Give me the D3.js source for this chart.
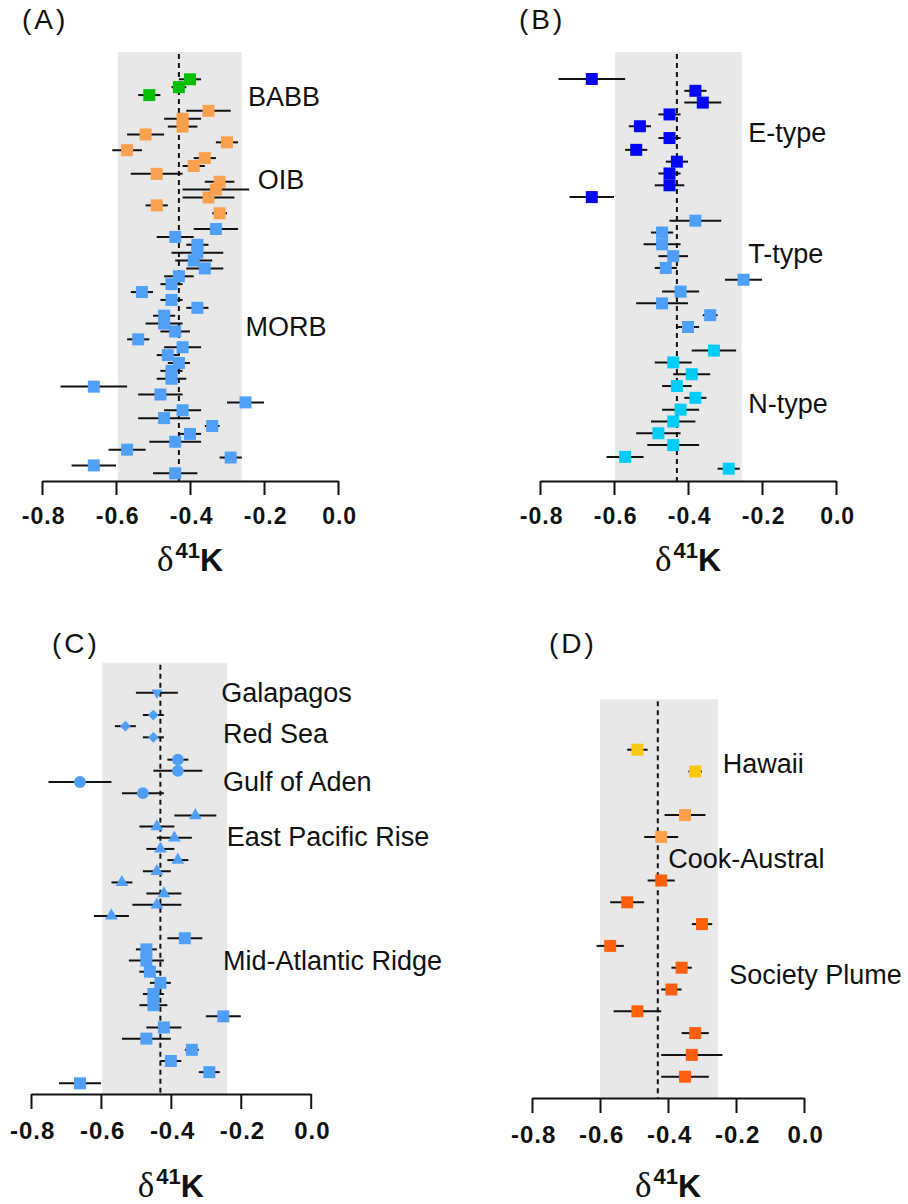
<!DOCTYPE html>
<html>
<head>
<meta charset="utf-8">
<script src="https://cdn.jsdelivr.net/npm/d3@7"></script>
<style>
  body { margin: 0; background: #fff; }
  svg { display: block; }
  text { fill: #111; }
</style>
</head>
<body>
<div id="chart"></div>
<script>
// ---- data (delta 41K, per mille, with 2SD errors) ----
// (A) global basalts
const babbVal = [-0.40, -0.43, -0.51];
const babbErr = [0.03, 0.02, 0.03];
const oibVal = [-0.35, -0.42, -0.42, -0.52, -0.30, -0.57, -0.36, -0.39, -0.49, -0.32, -0.33, -0.35, -0.49, -0.32];
const oibErr = [0.06, 0.05, 0.04, 0.05, 0.03, 0.04, 0.03, 0.03, 0.07, 0.04, 0.09, 0.07, 0.03, 0.02];
const morbVal = [-0.33, -0.44, -0.38, -0.38, -0.39, -0.36, -0.43, -0.45, -0.53, -0.45, -0.38, -0.47, -0.47, -0.44, -0.54, -0.42,
                 -0.46, -0.43, -0.45, -0.45, -0.66, -0.48, -0.25, -0.42, -0.47, -0.34, -0.40, -0.44, -0.57, -0.29, -0.66, -0.44];
const morbErr = [0.06, 0.05, 0.03, 0.07, 0.05, 0.05, 0.04, 0.03, 0.03, 0.03, 0.03, 0.03, 0.05, 0.04, 0.03, 0.05,
                 0.03, 0.03, 0.03, 0.04, 0.09, 0.06, 0.05, 0.05, 0.07, 0.02, 0.03, 0.07, 0.05, 0.03, 0.06, 0.06];

// (B) MORB by type
const eTypeVal = [-0.66, -0.38, -0.36, -0.45, -0.53, -0.45, -0.54, -0.43, -0.45, -0.45, -0.66];
const eTypeErr = [0.09, 0.03, 0.05, 0.03, 0.03, 0.03, 0.03, 0.03, 0.03, 0.04, 0.06];
const tTypeVal = [-0.38, -0.47, -0.47, -0.44, -0.46, -0.25, -0.42, -0.47, -0.34, -0.40];
const tTypeErr = [0.07, 0.03, 0.05, 0.04, 0.03, 0.05, 0.05, 0.07, 0.02, 0.03];
const nTypeVal = [-0.33, -0.44, -0.39, -0.43, -0.38, -0.42, -0.44, -0.48, -0.44, -0.57, -0.29];
const nTypeErr = [0.06, 0.05, 0.05, 0.04, 0.03, 0.05, 0.06, 0.06, 0.07, 0.05, 0.03];

// (C) MORB by ridge
const galVal = [-0.44];
const galErr = [0.06];
const redVal = [-0.45, -0.53, -0.45];
const redErr = [0.03, 0.03, 0.03];
const adenVal = [-0.38, -0.38, -0.66, -0.48];
const adenErr = [0.03, 0.07, 0.09, 0.06];
const eprVal = [-0.33, -0.44, -0.39, -0.43, -0.38, -0.44, -0.54, -0.42, -0.44, -0.57];
const eprErr = [0.06, 0.05, 0.05, 0.04, 0.03, 0.04, 0.03, 0.05, 0.07, 0.05];
const marVal = [-0.36, -0.47, -0.47, -0.46, -0.43, -0.45, -0.45, -0.25, -0.42, -0.47, -0.34, -0.40, -0.29, -0.66];
const marErr = [0.05, 0.03, 0.05, 0.03, 0.03, 0.03, 0.04, 0.05, 0.05, 0.07, 0.02, 0.03, 0.03, 0.06];

// (D) OIB by plume
const hawVal = [-0.49, -0.32];
const hawErr = [0.03, 0.02];
const cookVal = [-0.35, -0.42];
const cookErr = [0.06, 0.05];
const socVal = [-0.42, -0.52, -0.30, -0.57, -0.36, -0.39, -0.49, -0.32, -0.33, -0.35];
const socErr = [0.04, 0.05, 0.03, 0.04, 0.03, 0.03, 0.07, 0.04, 0.09, 0.07];

const xTicks = [-0.8, -0.6, -0.4, -0.2, 0.0];
const bseMean = -0.43;

// ---- panels ----
const sq = d3.symbolSquare;
const panels = [
    {
        title: '(A)', titleX: 22, titleY: 29,
        x0: 42, x1: 338, axisY: 481, bandTop: 52, yFirst: 79.3, yLast: 473.3,
        band: [-0.595, -0.26], tickLen: 14, tickFont: 23, labelY: 571,
        groups: [
            { values: babbVal, errors: babbErr, color: '#00BF00', shape: sq },
            { values: oibVal, errors: oibErr, color: '#F9A04E', shape: sq },
            { values: morbVal, errors: morbErr, color: '#4F9FF7', shape: sq },
        ],
        labels: [
            { text: 'BABB', x: -0.243, slot: 3.35 },
            { text: 'OIB', x: -0.217, slot: 13.9 },
            { text: 'MORB', x: -0.25, slot: 32.6 },
        ],
    },
    {
        title: '(B)', titleX: 519, titleY: 29,
        x0: 540, x1: 836, axisY: 481, bandTop: 52, yFirst: 79, yLast: 468.7,
        band: [-0.597, -0.255], tickLen: 14, tickFont: 23, labelY: 571,
        groups: [
            { values: eTypeVal, errors: eTypeErr, color: '#0606F2', shape: sq },
            { values: tTypeVal, errors: tTypeErr, color: '#4F9FF7', shape: sq },
            { values: nTypeVal, errors: nTypeErr, color: '#00CCFA', shape: sq },
        ],
        labels: [
            { text: 'E-type', x: -0.237, slot: 5.36 },
            { text: 'T-type', x: -0.237, slot: 15.54 },
            { text: 'N-type', x: -0.237, slot: 28.3 },
        ],
    },
    {
        title: '(C)', titleX: 52, titleY: 653,
        x0: 31, x1: 310.7, axisY: 1094, bandTop: 662.7, yFirst: 692.7, yLast: 1083.3,
        band: [-0.596, -0.239], tickLen: 15, tickFont: 24, labelY: 1197,
        groups: [
            { values: galVal, errors: galErr, color: '#4F9FF7', shape: d3.symbolTriangle, size: 50, rotate: 180 },
            { values: redVal, errors: redErr, color: '#4F9FF7', shape: sq, size: 58, rotate: 45 },
            { values: adenVal, errors: adenErr, color: '#4F9FF7', shape: d3.symbolCircle, size: 110 },
            { values: eprVal, errors: eprErr, color: '#4F9FF7', shape: d3.symbolTriangle, size: 70 },
            { values: marVal, errors: marErr, color: '#4F9FF7', shape: sq },
        ],
        labels: [
            { text: 'Galapagos', x: -0.256, slot: 0.81 },
            { text: 'Red Sea', x: -0.251, slot: 4.53 },
            { text: 'Gulf of Aden', x: -0.251, slot: 8.8 },
            { text: 'East Pacific Rise', x: -0.24, slot: 13.74 },
            { text: 'Mid-Atlantic Ridge', x: -0.251, slot: 24.85 },
        ],
    },
    {
        title: '(D)', titleX: 549, titleY: 653,
        x0: 532, x1: 804, axisY: 1098, bandTop: 699.3, yFirst: 749.7, yLast: 1076.7,
        band: [-0.6, -0.253], tickLen: 15, tickFont: 24, labelY: 1197,
        groups: [
            { values: hawVal, errors: hawErr, color: '#F8C811', shape: sq },
            { values: cookVal, errors: cookErr, color: '#FBA046', shape: sq },
            { values: socVal, errors: socErr, color: '#FE5F0E', shape: sq },
        ],
        labels: [
            { text: 'Hawaii', x: -0.239, slot: 1.08 },
            { text: 'Cook-Austral', x: -0.399, slot: 5.44 },
            { text: 'Society Plume', x: -0.22, slot: 10.75 },
        ],
    },
];

const width = 908;
const height = 1204;

const svg = d3.select('#chart')
    .append('svg')
    .attr('width', width)
    .attr('height', height);

svg.append('rect').attr('width', width).attr('height', height).attr('fill', '#fff');

function drawPanel(p) {
    const g = svg.append('g');

    const x = d3.scaleLinear().domain([-0.8, 0]).range([p.x0, p.x1]);

    // one slot per sample, one empty slot between groups
    const slots = [];
    const points = [];
    p.groups.forEach((grp, gi) => {
        grp.values.forEach((v, i) => {
            const key = gi + '-' + i;
            slots.push(key);
            points.push({ key, v, e: grp.errors[i], grp });
        });
        if (gi < p.groups.length - 1) slots.push('gap-' + gi);
    });
    const y = d3.scalePoint().domain(slots).range([p.yFirst, p.yLast]);
    const slotY = (s) => p.yFirst + s * y.step();

    // BSE band and mean
    g.append('rect')
        .attr('x', x(p.band[0]))
        .attr('y', p.bandTop)
        .attr('width', x(p.band[1]) - x(p.band[0]))
        .attr('height', p.axisY - p.bandTop)
        .attr('fill', '#e8e8e8');

    g.append('line')
        .attr('x1', x(bseMean)).attr('x2', x(bseMean))
        .attr('y1', p.bandTop + 2).attr('y2', p.axisY)
        .attr('stroke', '#111')
        .attr('stroke-width', 2)
        .attr('stroke-dasharray', '5,4');

    // error bars
    g.append('g')
        .selectAll('line')
        .data(points)
        .join('line')
        .attr('x1', (d) => x(d.v - d.e))
        .attr('x2', (d) => x(d.v + d.e))
        .attr('y1', (d) => y(d.key))
        .attr('y2', (d) => y(d.key))
        .attr('stroke', '#111')
        .attr('stroke-width', 2);

    // markers
    g.append('g')
        .selectAll('path')
        .data(points)
        .join('path')
        .attr('d', (d) => d3.symbol().type(d.grp.shape).size(d.grp.size || 144)())
        .attr('transform', (d) => `translate(${x(d.v)},${y(d.key)}) rotate(${d.grp.rotate || 0})`)
        .attr('fill', (d) => d.grp.color);

    // axis
    const axis = g.append('g')
        .attr('transform', `translate(0,${p.axisY})`)
        .call(d3.axisBottom(x)
            .tickValues(xTicks)
            .tickFormat((d) => d.toFixed(1))
            .tickSize(p.tickLen)
            .tickSizeOuter(0)
            .tickPadding(13));
    axis.select('.domain').attr('stroke', '#111').attr('stroke-width', 2);
    axis.selectAll('.tick line').attr('stroke', '#111').attr('stroke-width', 2);
    axis.selectAll('.tick text')
        .attr('fill', '#111')
        .attr('dx', '0.05em')
        .style('font-family', 'Liberation Sans, Arial, sans-serif')
        .style('font-weight', 'bold')
        .style('letter-spacing', '1px')
        .style('font-size', p.tickFont + 'px');

    // axis title: delta 41K
    const t = g.append('text')
        .attr('x', (p.x0 + p.x1) / 2)
        .attr('y', p.labelY)
        .attr('text-anchor', 'middle');
    t.append('tspan')
        .style('font-family', 'Liberation Serif, Times New Roman, serif')
        .style('font-size', '35px')
        .text('δ');
    t.append('tspan')
        .attr('dy', -13)
        .attr('dx', 2)
        .style('font-family', 'Liberation Sans, Arial, sans-serif')
        .style('font-weight', 'bold')
        .style('font-size', '22px')
        .text('41');
    t.append('tspan')
        .attr('dy', 13)
        .style('font-family', 'Liberation Sans, Arial, sans-serif')
        .style('font-weight', 'bold')
        .style('font-size', '32px')
        .text('K');

    // group labels
    g.append('g')
        .selectAll('text')
        .data(p.labels)
        .join('text')
        .attr('x', (d) => x(d.x))
        .attr('y', (d) => slotY(d.slot))
        .style('font-family', 'Liberation Sans, Arial, sans-serif')
        .style('font-size', '27px')
        .text((d) => d.text);

    // panel letter
    g.append('text')
        .attr('x', p.titleX)
        .attr('y', p.titleY)
        .style('font-family', 'Liberation Sans, Arial, sans-serif')
        .style('font-size', '28px')
        .style('letter-spacing', '3px')
        .text(p.title);
}

panels.forEach(drawPanel);
</script>
</body>
</html>
